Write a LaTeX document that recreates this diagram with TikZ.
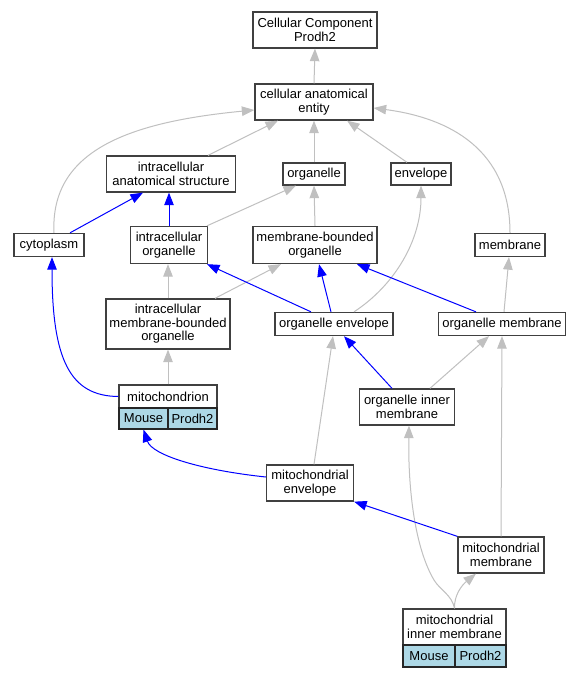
\documentclass[tikz,border=0pt]{standalone}
\usepackage{fontspec}
\setmainfont{Liberation Sans}
\usetikzlibrary{arrows.meta}
\definecolor{lb}{HTML}{ADD8E6}
\definecolor{eg}{HTML}{C0C0C0}
\begin{document}
\begin{tikzpicture}[x=1pt,y=-1pt,
  box/.style={draw=black!75, line width=1.3pt, fill=white, inner sep=0pt, align=center, font=\fontsize{13}{13.6}\selectfont},
  cell/.style={draw=black!85, line width=1.1pt, fill=lb, inner sep=0pt, font=\fontsize{13}{13.6}\selectfont},
  ge/.style={draw=eg, line width=1pt, -{Triangle[length=12.5pt,width=9.5pt]}},
  be/.style={draw=blue, line width=1pt, -{Triangle[length=12.5pt,width=9.5pt]}}]
\useasboundingbox[fill=white] (0,0) rectangle (580,677);
% nodes
\node[box, minimum width=124, minimum height=36] (cc) at (315,30) {Cellular Component\\Prodh2};
\node[box, minimum width=118, minimum height=36] (cae) at (314,102) {cellular anatomical\\entity};
\node[box, minimum width=129, minimum height=36] (ias) at (171,174) {intracellular\\anatomical structure};
\node[box, minimum width=62, minimum height=22] (org) at (314,174) {organelle};
\node[box, minimum width=60, minimum height=22] (env) at (421,174) {envelope};
\node[box, minimum width=70, minimum height=23] (cyto) at (49,245) {cytoplasm};
\node[box, minimum width=77, minimum height=37] (io) at (169,245) {intracellular\\organelle};
\node[box, minimum width=124, minimum height=37] (mbo) at (315,245) {membrane-bounded\\organelle};
\node[box, minimum width=70, minimum height=23] (mem) at (510,245) {membrane};
\node[box, minimum width=124, minimum height=50] (imbo) at (168,324) {intracellular\\membrane-bounded\\organelle};
\node[box, minimum width=118, minimum height=23] (oe) at (334,324) {organelle envelope};
\node[box, minimum width=127, minimum height=23] (om) at (502,324) {organelle membrane};
\node[box, minimum width=98, minimum height=23] (mitot) at (168,396.5) {mitochondrion};
\node[cell, minimum width=49, minimum height=21] (mito1) at (143.5,418.5) {Mouse};
\node[cell, minimum width=49, minimum height=21] (mito2) at (192.5,418.5) {Prodh2};
\node[box, minimum width=95, minimum height=36] (oim) at (407,407) {organelle inner\\membrane};
\node[box, minimum width=87, minimum height=36] (me) at (310,483) {mitochondrial\\envelope};
\node[box, minimum width=86, minimum height=36] (mm) at (501,555) {mitochondrial\\membrane};
\node[box, minimum width=103, minimum height=36] (mimt) at (454.5,627) {mitochondrial\\inner membrane};
\node[cell, minimum width=52, minimum height=22] (mim1) at (429,656) {Mouse};
\node[cell, minimum width=51, minimum height=22] (mim2) at (480.5,656) {Prodh2};
% gray edges
\draw[ge] (cae.north) -- (cc.south);
\draw[ge] ([xshift=37pt]ias.north) -- ([xshift=-36pt]cae.south);
\draw[ge] (org.north) -- (cae.south);
\draw[ge] ([xshift=-14pt]env.north) -- ([xshift=33pt]cae.south);
\draw[ge] ([xshift=5pt]cyto.north) .. controls (50,150) and (130,122) .. ([yshift=-8pt]cae.west);
\draw[ge] (mem.north) .. controls (510,150) and (450,118) .. ([yshift=-6pt]cae.east);
\draw[ge] ([xshift=38pt]io.north) -- ([xshift=-18pt]org.south);
\draw[ge] (mbo.north) -- (org.south);
\draw[ge] ([xshift=20pt]oe.north) .. controls (395,285) and (421,240) .. (env.south);
\draw[ge] (imbo.north) -- (imbo.north |- io.south);
\draw[ge] ([xshift=47pt]imbo.north) -- ([xshift=-34pt]mbo.south);
\draw[ge] ([xshift=2pt]om.north) -- ([xshift=-1pt]mem.south);
\draw[ge] (mitot.north) -- (imbo.south);
\draw[ge] ([xshift=23pt]oim.north) -- ([xshift=-13pt]om.south);
\draw[ge] ([xshift=4pt]me.north) -- ([xshift=-1pt]oe.south);
\draw[ge] (mm.north) -- (om.south);
\draw[ge] (mimt.north) .. controls (454,595) and (462,585) .. ([xshift=-25pt]mm.south);
\draw[ge] (mimt.north) .. controls (452,595) and (440,590) .. (434,580) .. controls (415,548) and (408,490) .. ([xshift=2pt]oim.south);
% blue edges
\draw[be] ([xshift=21pt]cyto.north) -- ([xshift=-28pt]ias.south);
\draw[be] (io.north) -- (io.north |- ias.south);
\draw[be] ([xshift=-23pt]oe.north) -- ([xshift=38pt]io.south);
\draw[be] ([xshift=-3pt]oe.north) -- ([xshift=4pt]mbo.south);
\draw[be] ([xshift=-26pt]om.north) -- ([xshift=42pt]mbo.south);
\draw[be] (mitot.west) .. controls (70,396) and (52,360) .. ([xshift=3pt]cyto.south);
\draw[be] ([xshift=-15pt]oim.north) -- ([xshift=10pt]oe.south);
\draw[be] ([yshift=6pt]me.west) .. controls (200,470) and (152,455) .. (mito1.south);
\draw[be] (mm.north west) -- (me.south east);
\end{tikzpicture}
\end{document}
